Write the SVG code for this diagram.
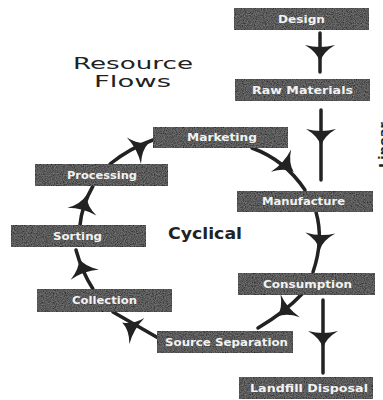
<svg xmlns="http://www.w3.org/2000/svg" width="383" height="400" viewBox="0 0 383 400">
<style>
.box{fill:#333;stroke:#1c1c1c;stroke-width:1.5}
.lbl{font-family:"DejaVu Sans",sans-serif;font-weight:bold;font-size:10.5px;fill:#f2f2f2}
.ln{fill:none;stroke:#222;stroke-width:3.5;stroke-linecap:round}
.hd{fill:#222}
</style>
<defs>
<filter id="grain" x="0" y="0" width="100%" height="100%">
<feTurbulence type="fractalNoise" baseFrequency="0.9" numOctaves="2" seed="3" result="n"/>
<feColorMatrix in="n" type="matrix" values="0 0 0 0 0.6  0 0 0 0 0.6  0 0 0 0 0.6  0 0 0 0.45 -0.1" result="g"/>
<feComposite in="g" in2="SourceGraphic" operator="atop"/>
</filter>
<path id="head" d="M -8,-15 Q -1,-3 9,0 Q -1,3 -8,15 Q -4,0 -8,-15 Z"/>
</defs>
<rect width="383" height="400" fill="#fff"/>

<g id="title">
<text x="73" y="69" font-family="DejaVu Sans, sans-serif" font-size="15" textLength="120" lengthAdjust="spacingAndGlyphs" fill="#222">Resource</text>
<text x="94" y="87" font-family="DejaVu Sans, sans-serif" font-size="15" textLength="77" lengthAdjust="spacingAndGlyphs" fill="#222">Flows</text>
</g>
<g id="cyclical">
<text x="168" y="239" font-family="DejaVu Sans, sans-serif" font-weight="bold" font-size="15" textLength="74" lengthAdjust="spacingAndGlyphs" fill="#222">Cyclical</text>
</g>
<g id="linear">
<text transform="translate(388,145) rotate(-90)" text-anchor="middle" font-family="DejaVu Sans, sans-serif" font-weight="bold" font-size="13" fill="#222">Linear</text>
</g>

<g id="connectors">
<line class="ln" x1="320" y1="33" x2="320" y2="72"/>
<use href="#head" class="hd" transform="translate(320,53) rotate(90)"/>
<line class="ln" x1="321" y1="110" x2="321" y2="180"/>
<use href="#head" class="hd" transform="translate(321,137) rotate(90)"/>
<path class="ln" d="M 252,148 Q 285,160 305,190"/>
<use href="#head" class="hd" transform="translate(287,166) rotate(42)"/>
<path class="ln" d="M 316,212 Q 324,240 313,272"/>
<use href="#head" class="hd" transform="translate(320,241) rotate(92)"/>
<path class="ln" d="M 302,294 Q 285,312 258,328"/>
<use href="#head" class="hd" transform="translate(284,311) rotate(140)"/>
<line class="ln" x1="323" y1="300" x2="323" y2="373"/>
<use href="#head" class="hd" transform="translate(323,339) rotate(90)"/>
<line class="ln" x1="160" y1="339" x2="113" y2="312"/>
<use href="#head" class="hd" transform="translate(130,327) rotate(210)"/>
<path class="ln" d="M 93,289 Q 82,272 76,250"/>
<use href="#head" class="hd" transform="translate(82,267) rotate(-110)"/>
<path class="ln" d="M 80,225 Q 82,205 93,186"/>
<use href="#head" class="hd" transform="translate(84,204) rotate(-75)"/>
<path class="ln" d="M 110,164 Q 130,148 153,140"/>
<use href="#head" class="hd" transform="translate(141,147) rotate(-28)"/>
</g>

<g id="design"><rect class="box" x="234" y="8" width="135" height="22" filter="url(#grain)"/><text class="lbl" x="278" y="23" textLength="47" lengthAdjust="spacingAndGlyphs">Design</text></g>
<g id="raw-materials"><rect class="box" x="235" y="79" width="135" height="22" filter="url(#grain)"/><text class="lbl" x="252" y="94" textLength="101" lengthAdjust="spacingAndGlyphs">Raw Materials</text></g>
<g id="marketing"><rect class="box" x="153" y="127" width="135" height="21" filter="url(#grain)"/><text class="lbl" x="187" y="141" textLength="70" lengthAdjust="spacingAndGlyphs">Marketing</text></g>
<g id="processing"><rect class="box" x="35" y="164" width="133" height="22" filter="url(#grain)"/><text class="lbl" x="67" y="179" textLength="70" lengthAdjust="spacingAndGlyphs">Processing</text></g>
<g id="manufacture"><rect class="box" x="237" y="191" width="136" height="21" filter="url(#grain)"/><text class="lbl" x="262" y="205" textLength="83" lengthAdjust="spacingAndGlyphs">Manufacture</text></g>
<g id="sorting"><rect class="box" x="11" y="225" width="135" height="22" filter="url(#grain)"/><text class="lbl" x="53" y="240" textLength="49" lengthAdjust="spacingAndGlyphs">Sorting</text></g>
<g id="collection"><rect class="box" x="37" y="289" width="135" height="23" filter="url(#grain)"/><text class="lbl" x="72" y="304" textLength="65" lengthAdjust="spacingAndGlyphs">Collection</text></g>
<g id="source-separation"><rect class="box" x="157" y="331" width="136" height="22" filter="url(#grain)"/><text class="lbl" x="165" y="346" textLength="123" lengthAdjust="spacingAndGlyphs">Source Separation</text></g>
<g id="consumption"><rect class="box" x="238" y="273" width="137" height="22" filter="url(#grain)"/><text class="lbl" x="263" y="288" textLength="89" lengthAdjust="spacingAndGlyphs">Consumption</text></g>
<g id="landfill-disposal"><rect class="box" x="239" y="377" width="134" height="22" filter="url(#grain)"/><text class="lbl" x="250" y="392" textLength="118" lengthAdjust="spacingAndGlyphs">Landfill Disposal</text></g>
</svg>
